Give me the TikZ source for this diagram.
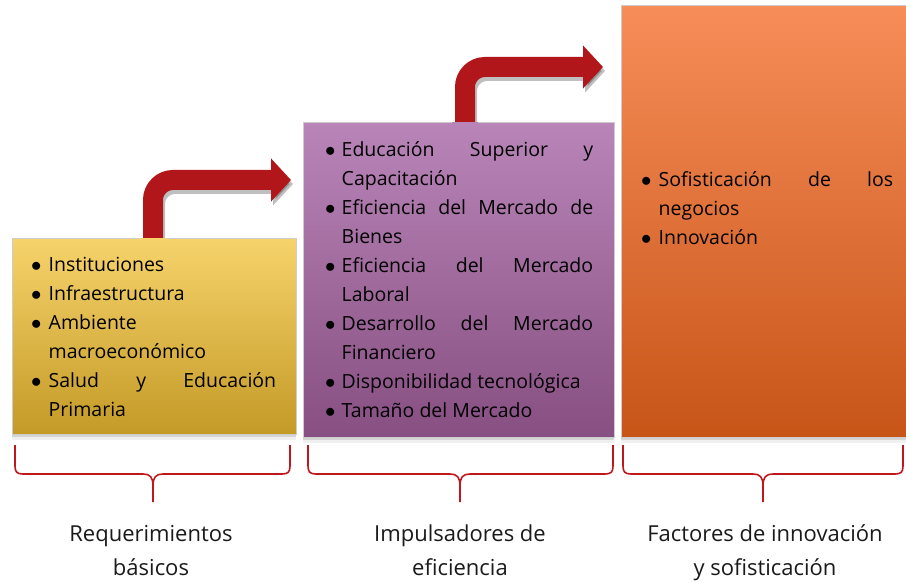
\documentclass[tikz,border=0pt]{standalone}
\usepackage{fontspec}
\setmainfont{Open Sans}
\usetikzlibrary{shadows,arrows.meta}
\definecolor{yelT}{HTML}{F6D36B}
\definecolor{yelB}{HTML}{C49A27}
\definecolor{purT}{HTML}{B985B8}
\definecolor{purB}{HTML}{874F82}
\definecolor{oraT}{HTML}{F78D59}
\definecolor{oraB}{HTML}{C75518}
\definecolor{arrowred}{HTML}{B0161A}
\definecolor{bracered}{HTML}{C0171C}
\definecolor{labelgray}{HTML}{1A1A1A}
\newlength\bhang
\newcommand\bmark{\makebox[\bhang][l]{$\bullet$}}
\newcommand\fitem[1]{\hangindent=\bhang\hangafter=1\bmark\strut#1}
\newcommand\bitem[1]{\par\hangindent=\bhang\hangafter=1\noindent\bmark\strut#1}
\tikzset{
  panel/.style={rectangle, inner sep=0pt, anchor=north west, draw=black!20, line width=0.4pt,
    drop shadow={shadow xshift=0pt, shadow yshift=-3pt, opacity=0.25},
    drop shadow={shadow xshift=0pt, shadow yshift=-6pt, opacity=0.12}},
  boxtext/.style={inner sep=0pt, anchor=base west, align=justify,
    font=\fontsize{19.5}{29}\selectfont,
    execute at begin node={\setlength\bhang{#1}\hyphenpenalty=10000\tolerance=10000\relax}},
  steparrow/.style={line width=20pt, arrowred, rounded corners=20pt,
    -{Triangle[length=20pt 0 0, width=42pt 0 0]}},
  arrowshadow/.style={line width=20pt, black, opacity=0.25, rounded corners=20pt,
    -{Triangle[length=20pt 0 0, width=42pt 0 0]}},
  brace/.style={draw=bracered, line width=1.6pt, line join=round},
  caption/.style={align=center, text=labelgray, font=\fontsize{22}{34}\selectfont, anchor=base}
}
\newcommand\bracepath[3]{% x1, xm, x2
  (#1,445) -- (#1,466) .. controls (#1,472) and (#1+2,474) .. (#1+8,474)
  -- (#2-10,474) .. controls (#2-3,474) and (#2,477) .. (#2,486) -- (#2,502)
  (#2,486) .. controls (#2,477) and (#2+3,474) .. (#2+10,474)
  -- (#3-8,474) .. controls (#3-2,474) and (#3,472) .. (#3,466) -- (#3,445)}
\begin{document}
\begin{tikzpicture}[x=1pt,y=-1pt]
\useasboundingbox (0,0) rectangle (906,583);

% panels
\node[panel, minimum width=284pt, minimum height=196pt, top color=yelT, bottom color=yelB] (yel) at (12,238) {};
\node[panel, minimum width=311pt, minimum height=315pt, top color=purT, bottom color=purB] (pur) at (303,122) {};
\node[panel, minimum width=290pt, minimum height=432pt, top color=oraT, bottom color=oraB] (ora) at (621,5) {};

% arrows
\coordinate (a1s) at (153,238);
\coordinate (a1e) at (291,180);
\coordinate (a2s) at (465,122);
\coordinate (a2e) at (603,67);
\begin{scope}[shift={(2,4)}]
  \draw[arrowshadow] (153,236) |- (291,180);
  \draw[arrowshadow] (465,120) |- (603,67);
\end{scope}
\fill[yelT] (140,238.3) rectangle (166,240);
\fill[purT] (452,122.3) rectangle (478,124);
\draw[steparrow] (a1s) |- (a1e);
\draw[steparrow] (a2s) |- (a2e);

% texts in panels
\node[boxtext=17.5pt, text width=245pt] (t1) at (31,272) {%
\fitem{Instituciones}
\bitem{Infraestructura}
\bitem{Ambiente\newline macroeconómico}
\bitem{Salud y Educación\linebreak Primaria}\par};

\node[boxtext=16.5pt, text width=268pt] (t2) at (325,157) {%
\fitem{Educación Superior y\linebreak Capacitación}
\bitem{Eficiencia del Mercado de\linebreak Bienes}
\bitem{Eficiencia del Mercado\linebreak Laboral}
\bitem{Desarrollo del Mercado\linebreak Financiero}
\bitem{Disponibilidad tecnológica}
\bitem{Tamaño del Mercado}\par};

\node[boxtext=17.5pt, text width=252pt] (t3) at (641,187) {%
\fitem{Sofisticación de los\linebreak negocios}
\bitem{Innovación}\par};

% braces
\draw[brace] \bracepath{15}{153}{290};
\draw[brace] \bracepath{308}{460}{613};
\draw[brace] \bracepath{623}{763}{903};

% captions
\node[caption] (c1) at (151,575) {Requerimientos\\básicos};
\node[caption] (c2) at (460,575) {Impulsadores de\\eficiencia};
\node[caption] (c3) at (765,575) {Factores de innovación\\y sofisticación};
\end{tikzpicture}
\end{document}
